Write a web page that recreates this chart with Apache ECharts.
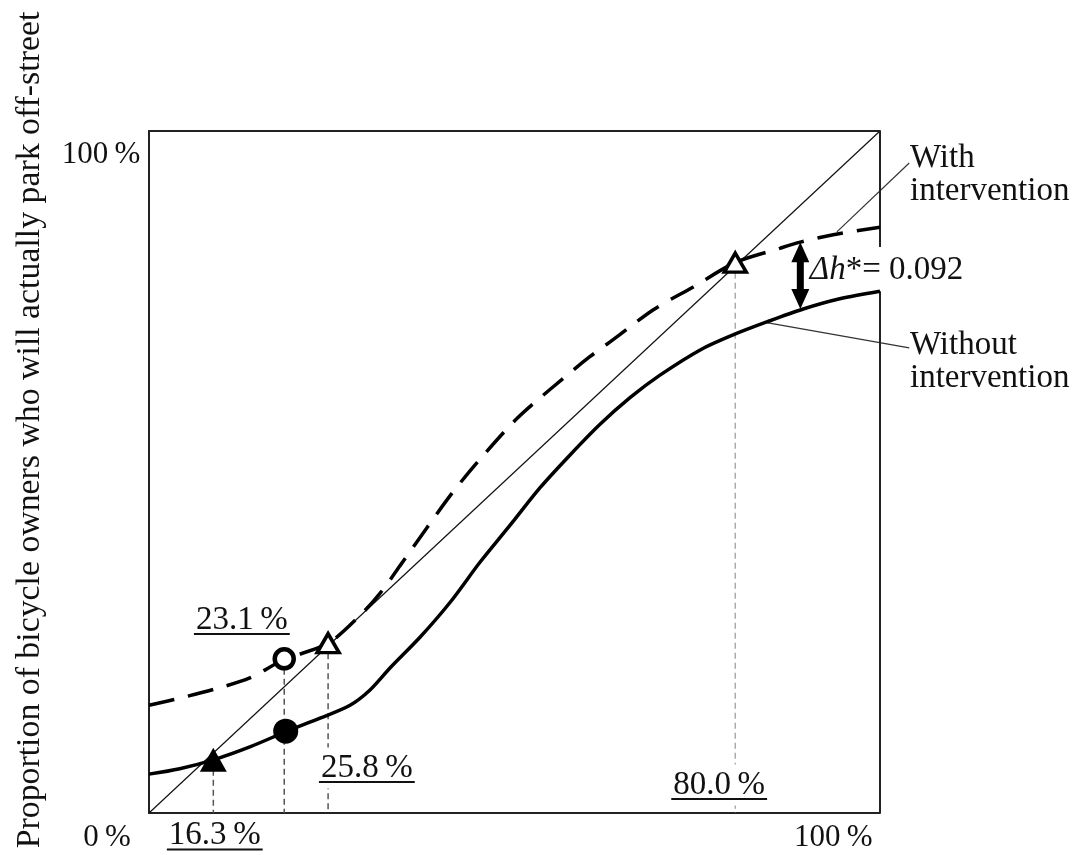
<!DOCTYPE html>
<html>
<head>
<meta charset="utf-8">
<script src="https://cdn.jsdelivr.net/npm/echarts@6/dist/echarts.min.js"></script>
<style>
  html, body { margin: 0; padding: 0; background: #fff; }
  #chart { width: 1088px; height: 855px; }
</style>
</head>
<body>
<div id="chart"></div>
<script>
// values, in % of each axis (x across, y up)
const withoutCurve = [
  [0, 5.7], [4.2, 6.5], [8.8, 7.8], [13.8, 9.7], [18.9, 12.0], [23.4, 13.9],
  [27.5, 15.8], [30.2, 18.0], [33.0, 21.3], [37.1, 25.8], [41.2, 30.9],
  [45.3, 36.8], [49.4, 42.2], [53.5, 47.7], [57.6, 52.5], [61.7, 57.0],
  [65.8, 60.9], [69.9, 64.2], [75.4, 67.9], [79.9, 70.1], [84.5, 72.0],
  [89.5, 73.9], [94.5, 75.4], [100, 76.5]
];
const withCurve = [
  [0, 15.8], [3.3, 16.6], [9.4, 18.3], [13.8, 19.8], [18.3, 22.4], [24.5, 24.9],
  [28.9, 29.0], [31.6, 32.2], [34.3, 36.2], [38.0, 41.8], [41.6, 47.1],
  [45.7, 52.4], [50.3, 57.8], [55.3, 62.5], [60.3, 66.9], [64.0, 69.8],
  [69.0, 73.8], [74.4, 77.1], [80.2, 80.7], [86.3, 82.8], [89.1, 83.7],
  [93.6, 84.8], [100, 85.9]
];
const diagonal = [[0, 0], [100, 100]];

const filledTriangles = [[8.8, 7.8]];
const filledCircles = [[18.7, 12.0]];
const openCircles = [[18.5, 22.6]];
const openTriangles = [[24.5, 24.9], [80.2, 80.7]];

// dashed drop lines: x and the height they start from
const guideX = [8.8, 18.5, 24.5, 80.2];
const guideTop = [7.8, 22.6, 24.9, 80.7];

const deltaH = [89.1, 83.7, 73.9]; // x, top (with), bottom (without)
// leader lines: from curve to label, [x1, y1, x2, y2]
const leaders = [[94.1, 85.2, 104.0, 95.3], [84.5, 71.9, 104.0, 68.2]];

const valueLabels = ['16.3\u2009%', '23.1\u2009%', '25.8\u2009%', '80.0\u2009%'];
const valueLabelAt = [[9.0, -3.3], [12.7, 28.3], [29.8, 6.6], [78.0, 4.1]];
const valueLabelMask = [false, false, true, true];

const tickLabels = ['0\u2009%', '100\u2009%', '100\u2009%'];
const tickLabelAt = [[-2.5, -3.7], [-1.2, 96.5], [93.6, -3.7]];
const tickAlign = ['right', 'right', 'center'];

const FONT = '"Liberation Serif", "Times New Roman", serif';
const FS = 33;
const TICK_FS = 31;

const measure = document.createElement('canvas').getContext('2d');
measure.font = FS + 'px ' + FONT;

const notes = [];
valueLabels.forEach((t, i) => notes.push({ text: t, at: valueLabelAt[i], align: 'center', underline: true, bg: valueLabelMask[i] }));
tickLabels.forEach((t, i) => notes.push({ text: t, at: tickLabelAt[i], align: tickAlign[i], size: TICK_FS }));
notes.push({ text: 'With\nintervention', at: [104.1, 93.6], align: 'left' });
notes.push({ text: 'Without\nintervention', at: [104.1, 66.2], align: 'left' });
notes.push({ text: '{it|\u0394h}*= 0.092', at: [90.4, 79.6], align: 'left', rich: true });

function renderNote (params, api) {
  const n = notes[params.dataIndex];
  const p = api.coord(n.at);
  const size = n.size || FS;
  const children = [{
    type: 'text',
    x: p[0],
    y: p[1],
    style: {
      text: n.text,
      fontFamily: FONT,
      fontSize: size,
      lineHeight: 33,
      fill: '#111',
      align: n.align,
      verticalAlign: 'middle',
      backgroundColor: n.bg ? '#fff' : null,
      padding: n.bg ? [2, 2, 6, 2] : 0,
      rich: n.rich ? { it: { fontStyle: 'italic', fontFamily: FONT, fontSize: size } } : undefined
    }
  }];
  if (n.underline) {
    const w = measure.measureText(n.text).width + 4;
    children.push({
      type: 'line',
      shape: { x1: p[0] - w / 2, y1: p[1] + 14, x2: p[0] + w / 2, y2: p[1] + 14 },
      style: { stroke: '#111', lineWidth: 2 }
    });
  }
  return { type: 'group', children: children };
}

function renderLeader (params, api) {
  const a = api.coord([api.value(0), api.value(1)]);
  const b = api.coord([api.value(2), api.value(3)]);
  return {
    type: 'line',
    shape: { x1: a[0], y1: a[1], x2: b[0], y2: b[1] },
    style: { stroke: '#333', lineWidth: 1.2 }
  };
}

function renderArrow (params, api) {
  const top = api.coord([deltaH[0], deltaH[1]]);
  const bot = api.coord([deltaH[0], deltaH[2]]);
  const x = top[0];
  const head = 20;
  const half = 9;
  return {
    type: 'group',
    children: [
      { type: 'line', shape: { x1: x, y1: top[1] + head - 2, x2: x, y2: bot[1] - head + 2 }, style: { stroke: '#000', lineWidth: 7 } },
      { type: 'polygon', shape: { points: [[x, top[1]], [x - half, top[1] + head], [x + half, top[1] + head]] }, style: { fill: '#000' } },
      { type: 'polygon', shape: { points: [[x, bot[1]], [x - half, bot[1] - head], [x + half, bot[1] - head]] }, style: { fill: '#000' } }
    ]
  };
}

const hidden = {
  axisTick: { show: false },
  axisLabel: { show: false },
  splitLine: { show: false }
};
const frame = { show: true, onZero: false, lineStyle: { color: '#222', width: 2 } };

const guideSeries = guideX.map((x, i) => ({
  type: 'line',
  data: [[x, guideTop[i]], [x, 0]],
  symbol: 'none',
  z: 1,
  lineStyle: { color: i === 3 ? '#aaa' : '#555', width: 1.5, type: [6, 4] }
}));

const chart = echarts.init(document.getElementById('chart'));
chart.setOption({
  animation: false,
  backgroundColor: '#fff',
  grid: { left: 149, top: 131, width: 731, height: 682 },
  xAxis: [
    Object.assign({ type: 'value', min: 0, max: 100, axisLine: frame }, hidden),
    Object.assign({ type: 'value', min: 0, max: 100, position: 'top', axisLine: frame }, hidden)
  ],
  yAxis: Object.assign({ type: 'value', min: 0, max: 100, axisLine: frame }, hidden),
  graphic: [{
    type: 'text',
    x: 30,
    y: 430,
    rotation: Math.PI / 2,
    style: {
      text: 'Proportion of bicycle owners who will actually park off-street',
      fontFamily: FONT,
      fontSize: 33.8,
      fill: '#111',
      align: 'center',
      verticalAlign: 'middle'
    }
  }],
  series: guideSeries.concat([
    {
      type: 'line',
      data: [[100, 100], [100, 83.0]],
      symbol: 'none',
      lineStyle: { color: '#222', width: 2 }
    },
    {
      type: 'line',
      data: [[100, 76.5], [100, 0]],
      symbol: 'none',
      lineStyle: { color: '#222', width: 2 }
    },
    {
      type: 'line',
      data: diagonal,
      symbol: 'none',
      z: 2,
      lineStyle: { color: '#111', width: 1.2 }
    },
    {
      type: 'custom',
      data: leaders,
      renderItem: renderLeader,
      clip: false,
      z: 2
    },
    {
      name: 'Without intervention',
      type: 'line',
      data: withoutCurve,
      smooth: 0.3,
      symbol: 'none',
      z: 3,
      lineStyle: { color: '#000', width: 3.5 }
    },
    {
      name: 'With intervention',
      type: 'line',
      data: withCurve,
      smooth: 0.3,
      symbol: 'none',
      z: 3,
      lineStyle: { color: '#000', width: 3.5, type: [26, 14] }
    },
    {
      type: 'scatter',
      data: filledTriangles,
      symbol: 'triangle',
      symbolSize: [27, 24],
      z: 5,
      itemStyle: { color: '#000', opacity: 1 }
    },
    {
      type: 'scatter',
      data: filledCircles,
      symbol: 'circle',
      symbolSize: 25,
      z: 5,
      itemStyle: { color: '#000', opacity: 1 }
    },
    {
      type: 'scatter',
      data: openCircles,
      symbol: 'circle',
      symbolSize: 19,
      z: 5,
      itemStyle: { color: '#fff', borderColor: '#000', borderWidth: 4.5, opacity: 1 }
    },
    {
      type: 'scatter',
      data: openTriangles,
      symbol: 'triangle',
      symbolSize: [22, 19],
      z: 5,
      itemStyle: { color: '#fff', borderColor: '#000', borderWidth: 3.5, opacity: 1 }
    },
    {
      type: 'custom',
      data: [deltaH],
      renderItem: renderArrow,
      clip: false,
      z: 6
    },
    {
      type: 'custom',
      data: notes.map((n) => n.at),
      renderItem: renderNote,
      clip: false,
      z: 4
    }
  ])
});
</script>
</body>
</html>
